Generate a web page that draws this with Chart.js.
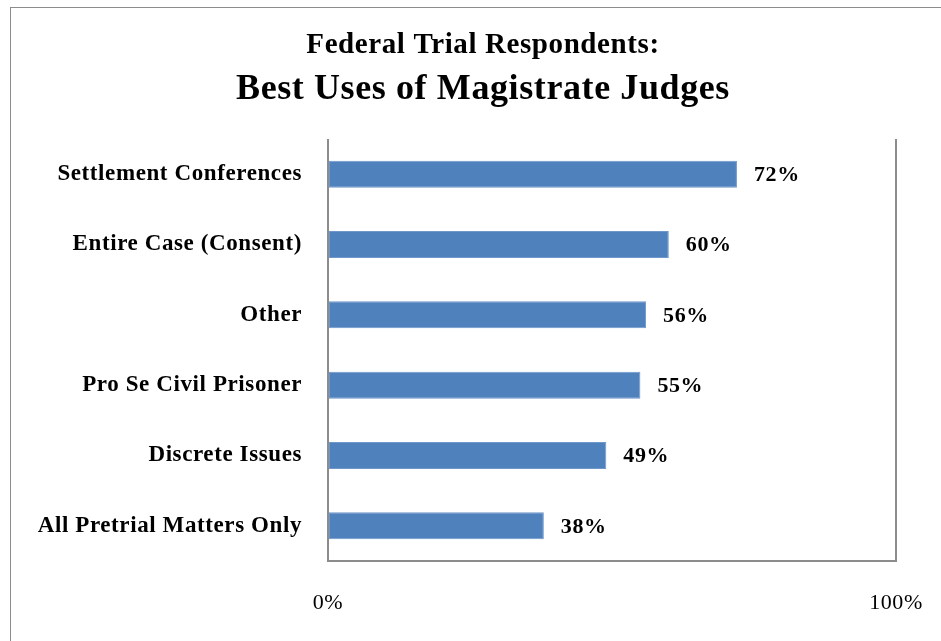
<!DOCTYPE html>
<html>
<head>
<meta charset="utf-8">
<script src="https://cdn.jsdelivr.net/npm/chart.js@4"></script>
<style>
  html, body { margin: 0; padding: 0; background: #fff; }
  #wrap { position: relative; width: 941px; height: 641px; overflow: hidden; }
  #frame { position: absolute; left: 10px; top: 7px; width: 960px; height: 660px; border: 1px solid #8c8c8c; box-sizing: border-box; }
  canvas { position: absolute; left: 0; top: 0; }
</style>
</head>
<body>
<div id="wrap">
  <div id="frame"></div>
  <canvas id="myChart" width="941" height="641"></canvas>
</div>
<script>
// Chart data
const categories = [
    'Settlement Conferences',
    'Entire Case (Consent)',
    'Other',
    'Pro Se Civil Prisoner',
    'Discrete Issues',
    'All Pretrial Matters Only'
];
const values = [0.72, 0.60, 0.56, 0.55, 0.49, 0.38];
const tickValues = [0, 1];
const tickLabels = ['0%', '100%'];

const serif = "'Liberation Serif', 'DejaVu Serif', serif";

// a bit of letter spacing so the text is as wide as the Garamond original
const spacing = {
    id: 'spacing',
    beforeUpdate(chart) { chart.ctx.letterSpacing = '0.6px'; },
    beforeDraw(chart) { chart.ctx.letterSpacing = '0.6px'; }
};

// draws the percent labels at the end of each bar
const valueLabels = {
    id: 'valueLabels',
    afterDatasetsDraw(chart) {
        const ctx = chart.ctx;
        const meta = chart.getDatasetMeta(0);
        ctx.save();
        ctx.font = 'bold 22px ' + serif;
        ctx.fillStyle = '#000';
        ctx.textAlign = 'left';
        ctx.textBaseline = 'middle';
        meta.data.forEach((bar, i) => {
            ctx.fillText(Math.round(values[i] * 100) + '%', bar.x + 17, bar.y + 1);
        });
        ctx.restore();
    }
};

document.addEventListener('DOMContentLoaded', () => {
    const ctx = document.getElementById('myChart').getContext('2d');
    new Chart(ctx, {
        type: 'bar',
        data: {
            labels: categories,
            datasets: [{
                data: values,
                backgroundColor: '#4f81bd',
                borderColor: '#6f97c9',
                borderWidth: 1,
                borderSkipped: false,
                categoryPercentage: 1,
                barPercentage: 0.385
            }]
        },
        options: {
            indexAxis: 'y',
            responsive: false,
            animation: false,
            // negative right padding moves the centred title to the right
            layout: { padding: { left: 0, right: -25, top: 0, bottom: 0 } },
            plugins: {
                legend: { display: false },
                tooltip: { enabled: false },
                title: {
                    display: true,
                    text: 'Federal Trial Respondents:',
                    color: '#000',
                    font: { family: serif, size: 29, weight: 'bold' },
                    padding: { top: 28, bottom: 2 }
                },
                subtitle: {
                    display: true,
                    text: 'Best Uses of Magistrate Judges',
                    color: '#000',
                    font: { family: serif, size: 36, weight: 'bold' },
                    padding: { top: 3, bottom: 28 }
                }
            },
            scales: {
                x: {
                    min: 0,
                    max: 1,
                    afterBuildTicks: scale => {
                        scale.ticks = tickValues.map(v => ({ value: v }));
                    },
                    afterFit: scale => {
                        scale.height = 80;
                        scale.paddingLeft = 0;
                        scale.paddingRight = 45;
                    },
                    ticks: {
                        color: '#000',
                        padding: 29,
                        maxRotation: 0,
                        font: { family: serif, size: 22 },
                        callback: (v, i) => tickLabels[i]
                    },
                    grid: { color: '#8c8c8c', lineWidth: 2, drawTicks: false },
                    border: { color: '#8c8c8c', width: 2 }
                },
                y: {
                    afterFit: scale => { scale.width = 328; },
                    ticks: {
                        color: '#000',
                        padding: 26,
                        font: { family: serif, size: 23, weight: 'bold' }
                    },
                    grid: { display: false, drawTicks: false },
                    border: { display: false }
                }
            }
        },
        plugins: [spacing, valueLabels]
    });
});
</script>
</body>
</html>
